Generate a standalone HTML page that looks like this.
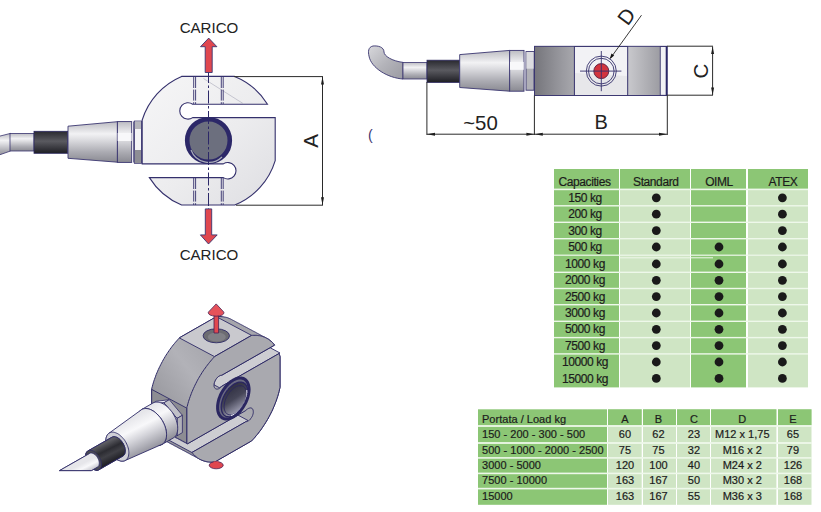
<!DOCTYPE html>
<html><head><meta charset="utf-8">
<style>
html,body{margin:0;padding:0;background:#fff;}
body{width:821px;height:512px;overflow:hidden;position:relative;}
svg{position:absolute;left:0;top:0;}
text{font-family:"Liberation Sans",sans-serif;}
.t1{font-size:12px;fill:#1c1c1c;letter-spacing:-0.4px;stroke:#1c1c1c;stroke-width:0.2px;}
.t2{font-size:11px;fill:#1c1c1c;letter-spacing:0.02px;stroke:#1c1c1c;stroke-width:0.2px;}
</style></head>
<body>
<svg width="821" height="512" viewBox="0 0 821 512">
<defs>
<linearGradient id="gCab" x1="0" y1="0" x2="0" y2="1">
<stop offset="0" stop-color="#bcbcc2"/><stop offset="0.3" stop-color="#f2f2f4"/><stop offset="0.45" stop-color="#dcdce0"/><stop offset="0.75" stop-color="#ababb2"/><stop offset="1" stop-color="#8a8a92"/>
</linearGradient>
<linearGradient id="gBlk" x1="0" y1="0" x2="0" y2="1">
<stop offset="0" stop-color="#2a2a30"/><stop offset="0.45" stop-color="#5a5a60"/><stop offset="1" stop-color="#1e1e24"/>
</linearGradient>
</defs>

<!-- ================= TABLE 1 ================= -->
<g id="tab1">
<rect x="554" y="169" width="65" height="218.4" fill="#8cc675"/>
<rect x="620" y="169" width="70" height="218.4" fill="#cfe5c4"/>
<rect x="691" y="169" width="55" height="218.4" fill="#8cc675"/>
<rect x="748" y="169" width="60" height="218.4" fill="#cfe5c4"/>
<rect x="620" y="169" width="70" height="20" fill="#8cc675"/>
<rect x="748" y="169" width="60" height="20" fill="#8cc675"/>
<g fill="#eef8ea">
<rect x="554" y="188.6" width="254" height="1.6"/>
<rect x="554" y="205.1" width="254" height="1.4"/>
<rect x="554" y="221.6" width="254" height="1.4"/>
<rect x="554" y="238.0" width="254" height="1.4"/>
<rect x="554" y="254.6" width="254" height="1.2"/>
<rect x="620" y="257.3" width="93" height="1.0"/>
<rect x="554" y="271.6" width="254" height="1.4"/>
<rect x="554" y="287.8" width="254" height="1.4"/>
<rect x="554" y="304.0" width="254" height="1.4"/>
<rect x="554" y="320.6" width="254" height="1.4"/>
<rect x="554" y="336.9" width="254" height="1.4"/>
<rect x="554" y="353.2" width="254" height="1.4"/>
</g>
<g class="t1" text-anchor="middle">
<text x="584.5" y="186.4">Capacities</text>
<text x="655.8" y="186.4">Standard</text>
<text x="719" y="186.4">OIML</text>
<text x="783" y="186.4">ATEX</text>
<text x="585" y="202">150 kg</text>
<text x="585" y="218.4">200 kg</text>
<text x="585" y="234.8">300 kg</text>
<text x="585" y="251.2">500 kg</text>
<text x="585" y="268">1000 kg</text>
<text x="585" y="284.3">2000 kg</text>
<text x="585" y="300.6">2500 kg</text>
<text x="585" y="317">3000 kg</text>
<text x="585" y="333.3">5000 kg</text>
<text x="585" y="349.6">7500 kg</text>
<text x="585" y="366">10000 kg</text>
<text x="585" y="382.6">15000 kg</text>
</g>
<g fill="#1a1a1a">
<circle cx="656.3" cy="197.8" r="4.4"/><circle cx="782.4" cy="197.8" r="4.4"/>
<circle cx="656.3" cy="214.2" r="4.4"/><circle cx="782.4" cy="214.2" r="4.4"/>
<circle cx="656.3" cy="230.6" r="4.4"/><circle cx="782.4" cy="230.6" r="4.4"/>
<circle cx="656.3" cy="247" r="4.4"/><circle cx="719" cy="247" r="4.4"/><circle cx="782.4" cy="247" r="4.4"/>
<circle cx="656.3" cy="264" r="4.4"/><circle cx="719" cy="264" r="4.4"/><circle cx="782.4" cy="264" r="4.4"/>
<circle cx="656.3" cy="280.3" r="4.4"/><circle cx="719" cy="280.3" r="4.4"/><circle cx="782.4" cy="280.3" r="4.4"/>
<circle cx="656.3" cy="296.6" r="4.4"/><circle cx="719" cy="296.6" r="4.4"/><circle cx="782.4" cy="296.6" r="4.4"/>
<circle cx="656.3" cy="313" r="4.4"/><circle cx="719" cy="313" r="4.4"/><circle cx="782.4" cy="313" r="4.4"/>
<circle cx="656.3" cy="329.3" r="4.4"/><circle cx="719" cy="329.3" r="4.4"/><circle cx="782.4" cy="329.3" r="4.4"/>
<circle cx="656.3" cy="345.6" r="4.4"/><circle cx="719" cy="345.6" r="4.4"/><circle cx="782.4" cy="345.6" r="4.4"/>
<circle cx="656.3" cy="362" r="4.4"/><circle cx="719" cy="362" r="4.4"/><circle cx="782.4" cy="362" r="4.4"/>
<circle cx="656.3" cy="378.4" r="4.4"/><circle cx="719" cy="378.4" r="4.4"/><circle cx="782.4" cy="378.4" r="4.4"/>
</g>
</g>

<!-- ================= TABLE 2 ================= -->
<g id="tab2">
<rect x="478" y="409.3" width="129" height="95.5" fill="#8cc675"/>
<rect x="608" y="409.3" width="33.7" height="95.5" fill="#cfe5c4"/>
<rect x="643" y="409.3" width="33" height="95.5" fill="#cfe5c4"/>
<rect x="677" y="409.3" width="33" height="95.5" fill="#cfe5c4"/>
<rect x="711" y="409.3" width="65.4" height="95.5" fill="#cfe5c4"/>
<rect x="778" y="409.3" width="33.5" height="95.5" fill="#cfe5c4"/>
<g fill="#8cc675">
<rect x="608" y="409.3" width="33.7" height="16"/>
<rect x="643" y="409.3" width="33" height="16"/>
<rect x="677" y="409.3" width="33" height="16"/>
<rect x="711" y="409.3" width="65.4" height="16"/>
<rect x="778" y="409.3" width="33.5" height="16"/>
</g>
<g fill="#eef8ea">
<rect x="478" y="425.1" width="334" height="1.8"/>
<rect x="478" y="442.1" width="334" height="1.8"/>
<rect x="478" y="457.1" width="334" height="1.6"/>
<rect x="478" y="472.6" width="334" height="1.6"/>
<rect x="478" y="487.8" width="334" height="1.6"/>
</g>
<g class="t2">
<text x="482" y="423">Portata / Load kg</text>
<text x="482" y="438">150 - 200 - 300 - 500</text>
<text x="482" y="453.7">500 - 1000 - 2000 - 2500</text>
<text x="482" y="469">3000 - 5000</text>
<text x="482" y="484.3">7500 - 10000</text>
<text x="482" y="500">15000</text>
</g>
<g class="t2" text-anchor="middle">
<text x="625" y="423">A</text><text x="658.5" y="423">B</text><text x="694" y="423">C</text><text x="742.3" y="423">D</text><text x="793" y="423">E</text>
<text x="625" y="438">60</text><text x="658.5" y="438">62</text><text x="694" y="438">23</text><text x="742.3" y="438">M12 x 1,75</text><text x="793" y="438">65</text>
<text x="625" y="453.7">75</text><text x="658.5" y="453.7">75</text><text x="694" y="453.7">32</text><text x="742.3" y="453.7">M16 x 2</text><text x="793" y="453.7">79</text>
<text x="625" y="469">120</text><text x="658.5" y="469">100</text><text x="694" y="469">40</text><text x="742.3" y="469">M24 x 2</text><text x="793" y="469">126</text>
<text x="625" y="484.3">163</text><text x="658.5" y="484.3">167</text><text x="694" y="484.3">50</text><text x="742.3" y="484.3">M30 x 2</text><text x="793" y="484.3">168</text>
<text x="625" y="500">163</text><text x="658.5" y="500">167</text><text x="694" y="500">55</text><text x="742.3" y="500">M36 x 3</text><text x="793" y="500">168</text>
</g>
</g>

<!-- ================= FRONT VIEW ================= -->
<g id="front">
<!-- cable -->
<path d="M-6,137.6 L10.5,133.4 L10.5,151 L-6,156.8 Z" fill="url(#gCab)" stroke="#3a3570" stroke-width="0.8"/>
<rect x="10" y="133.4" width="24" height="17.6" fill="url(#gCab)" stroke="#3a3570" stroke-width="0.8"/>
<rect x="34" y="131.3" width="33.7" height="22" fill="url(#gBlk)" stroke="#2c2860" stroke-width="0.8"/>
<path d="M68,126.2 L117.4,121.7 L117.4,162.2 L68,158.3 Z" fill="url(#gCab)" stroke="#3a3570" stroke-width="0.9"/>
<rect x="117.4" y="121.6" width="14.3" height="40.8" fill="url(#gCab)" stroke="#3a3570" stroke-width="0.9"/>
<rect x="117.6" y="133" width="14" height="8" fill="#f8f8fa"/>
<rect x="133.3" y="121.5" width="1" height="41" fill="#3a3570"/>
<rect x="134.4" y="121.1" width="7.1" height="42.2" fill="#f4f4f6" stroke="#3a3570" stroke-width="0.9"/>
<rect x="134.8" y="121.5" width="6.3" height="7.5" fill="#b5b5bb"/>
<rect x="134.8" y="150" width="6.3" height="13" fill="#8e8e95"/>
<!-- body -->
<linearGradient id="gBody" x1="0" y1="0" x2="1" y2="1">
<stop offset="0" stop-color="#f6f6f7"/><stop offset="0.55" stop-color="#ececee"/><stop offset="1" stop-color="#dedee2"/>
</linearGradient>
<path d="M181.6,76.4 L234.6,76.4 A69.5,69.5 0 0 1 267.5,104.2 L192.7,104.2 A8.2,8.2 0 1 0 192.7,117.6 L275.2,117.6 L275.2,160.6 A69.5,69.5 0 0 1 234.7,205 L181.6,205 A69.5,69.5 0 0 1 149.4,177.6 L223.3,177.6 A8.2,8.2 0 1 0 223.3,163.9 L142.2,163.9 L142.2,120 A69.5,69.5 0 0 1 181.6,76.4 Z" fill="url(#gBody)" stroke="#34306c" stroke-width="1.1"/>
<line x1="203.5" y1="78.5" x2="243" y2="103.5" stroke="#a8a8b8" stroke-width="0.6"/>
<!-- dashed hole lines -->
<g stroke="#34306c" stroke-width="0.9" stroke-dasharray="11,1.6">
<line x1="193.7" y1="77" x2="193.7" y2="104"/><line x1="195.6" y1="77" x2="195.6" y2="104"/>
<line x1="221.3" y1="77" x2="221.3" y2="104"/><line x1="223.2" y1="77" x2="223.2" y2="104"/>
<line x1="193.7" y1="178" x2="193.7" y2="205"/><line x1="195.6" y1="178" x2="195.6" y2="205"/>
<line x1="221.3" y1="178" x2="221.3" y2="205"/><line x1="223.2" y1="178" x2="223.2" y2="205"/>
</g>
<!-- center hole -->
<circle cx="208.5" cy="140.5" r="21.3" fill="#6c6f7e" stroke="#2c2868" stroke-width="4.6"/>
<path d="M191,150 A19,19 0 0 0 222,157" fill="none" stroke="#a9acb8" stroke-width="1.2"/>
<!-- center line -->
<line x1="208.5" y1="70" x2="208.5" y2="210" stroke="#2c2868" stroke-width="1" stroke-dasharray="13,2.5,2.5,2.5"/>
<!-- arrows -->
<path d="M205.2,72.5 L205.2,46.7 L200.5,46.7 L208.7,38.1 L216.9,46.7 L212.2,46.7 L212.2,72.5 Z" fill="#e0474f" stroke="#3a3570" stroke-width="0.9"/>
<path d="M205.3,208.9 L205.3,234.9 L200.4,234.9 L208.5,244 L217.2,234.9 L211.7,234.9 L211.7,208.9 Z" fill="#e0474f" stroke="#3a3570" stroke-width="0.9"/>
<!-- dimension A -->
<g stroke="#2a2a2a" stroke-width="1" fill="none">
<line x1="234" y1="76.6" x2="323" y2="76.6"/>
<line x1="236" y1="205.2" x2="323" y2="205.2"/>
<line x1="322.5" y1="77" x2="322.5" y2="205"/>
</g>
<path d="M322.5,76.8 L324,84.6 L321,84.6 Z M322.5,205 L324,197.2 L321,197.2 Z" fill="#1e1e1e"/>
<text x="0" y="0" transform="translate(318.4,140.8) rotate(-90)" text-anchor="middle" font-size="20.6" fill="#222">A</text>
<text x="209" y="32.7" text-anchor="middle" font-size="15.1" fill="#222">CARICO</text>
<text x="209" y="260.2" text-anchor="middle" font-size="15.1" fill="#222">CARICO</text>
</g>

<!-- ================= SIDE VIEW ================= -->
<g id="side">
<linearGradient id="gBend" x1="0" y1="0" x2="1" y2="1">
<stop offset="0" stop-color="#d8d8dc"/><stop offset="0.5" stop-color="#b4b4ba"/><stop offset="1" stop-color="#9a9aa2"/>
</linearGradient>
<path d="M403,62.4 C392,61 384,56 384,52 C384,47 378,45.5 373,46 C368,47 368,52 369,56 C371,68 388,78 403,79 Z" fill="url(#gBend)" stroke="#3a3570" stroke-width="0.9"/>
<rect x="403" y="62.4" width="24" height="16.6" fill="url(#gCab)" stroke="#3a3570" stroke-width="0.8"/>
<rect x="427" y="60.2" width="32.7" height="22.2" fill="url(#gBlk)" stroke="#2c2860" stroke-width="0.8"/>
<path d="M459.7,54.6 L509.7,50.4 L509.7,91.2 L459.7,87.5 Z" fill="url(#gCab)" stroke="#3a3570" stroke-width="0.9"/>
<rect x="509.7" y="50.4" width="14.3" height="40.8" fill="url(#gCab)" stroke="#3a3570" stroke-width="0.9"/>
<rect x="510" y="62" width="13.7" height="7.8" fill="#f8f8fa"/>
<rect x="526" y="51.6" width="8" height="38.6" fill="#b0b0b6" stroke="#3a3570" stroke-width="0.9"/>
<rect x="526.4" y="52" width="7.2" height="16.7" fill="#dcdce0"/>
<!-- body -->
<linearGradient id="gDarkL" x1="0" y1="0" x2="1" y2="0">
<stop offset="0" stop-color="#76767c"/><stop offset="0.7" stop-color="#9a9aa0"/><stop offset="1" stop-color="#a8a8ad"/>
</linearGradient>
<linearGradient id="gDarkR" x1="0" y1="0" x2="1" y2="0">
<stop offset="0" stop-color="#c9c9cd"/><stop offset="1" stop-color="#9c9ca2"/>
</linearGradient>
<rect x="534.6" y="46.4" width="132.4" height="49" fill="#f2f2f5" stroke="#34306c" stroke-width="1.1"/>
<rect x="535" y="46.8" width="39.4" height="48.2" fill="url(#gDarkL)"/>
<rect x="627.7" y="46.8" width="32.6" height="48.2" fill="url(#gDarkR)"/>
<path d="M575,73 L627,76 L627,95 L575,95 Z" fill="#e7e7ea"/>
<line x1="574.4" y1="46.4" x2="574.4" y2="95.4" stroke="#34306c" stroke-width="1"/>
<line x1="627.7" y1="46.4" x2="627.7" y2="95.4" stroke="#34306c" stroke-width="1"/>
<line x1="660.3" y1="46.4" x2="660.3" y2="95.4" stroke="#34306c" stroke-width="0.8"/>
<line x1="666.6" y1="46.4" x2="666.6" y2="95.4" stroke="#2c2868" stroke-width="1.8"/>
<!-- target -->
<circle cx="601.3" cy="71.1" r="15" fill="none" stroke="#34306c" stroke-width="0.9"/>
<circle cx="601.3" cy="71.1" r="12.8" fill="none" stroke="#34306c" stroke-width="0.9"/>
<circle cx="601.3" cy="71.1" r="7.5" fill="#d2343e" stroke="#5a2040" stroke-width="0.9"/>
<line x1="580" y1="71.1" x2="621.4" y2="71.1" stroke="#34306c" stroke-width="0.9"/>
<line x1="601.3" y1="51" x2="601.3" y2="91.2" stroke="#34306c" stroke-width="0.9"/>
<!-- leader D -->
<line x1="610.4" y1="58.3" x2="641.5" y2="15.2" stroke="#222" stroke-width="0.9"/>
<path d="M609.6,59.3 L611.5,53.6 L614.2,55.6 Z" fill="#111"/>
<text x="0" y="0" transform="translate(632.1,20.4) rotate(-54)" text-anchor="middle" font-size="20.5" fill="#222">D</text>
<!-- dimension lines -->
<g stroke="#2a2a2a" stroke-width="1" fill="none">
<line x1="667" y1="46.2" x2="713" y2="46.2"/>
<line x1="667" y1="95.2" x2="713" y2="95.2"/>
<line x1="712.6" y1="46.5" x2="712.6" y2="95"/>
<line x1="426.9" y1="82" x2="426.9" y2="135"/>
<line x1="534.4" y1="95.4" x2="534.4" y2="135"/>
<line x1="667.3" y1="95.4" x2="667.3" y2="135"/>
<line x1="427" y1="134.2" x2="667" y2="134.2"/>
</g>
<path d="M712.6,46.4 L714.1,54 L711.1,54 Z M712.6,95 L714.1,87.4 L711.1,87.4 Z" fill="#1e1e1e"/>
<path d="M427,134.2 L435,132.7 L435,135.7 Z M534.4,134.2 L526.4,132.7 L526.4,135.7 Z M534.8,134.2 L542.8,132.7 L542.8,135.7 Z M667,134.2 L659,132.7 L659,135.7 Z" fill="#1e1e1e"/>
<text x="0" y="0" transform="translate(708.3,71) rotate(-90)" text-anchor="middle" font-size="20.5" fill="#222">C</text>
<text x="480.5" y="130.1" text-anchor="middle" font-size="20.4" fill="#222">~50</text>
<text x="601.2" y="129.4" text-anchor="middle" font-size="20" fill="#222">B</text>
<text x="368" y="140" font-size="14" fill="#3a3570">(</text>
</g>

<g id="iso">
<linearGradient id="gSide" gradientUnits="userSpaceOnUse" x1="150" y1="400" x2="215" y2="350"><stop offset="0" stop-color="#96969c"/><stop offset="0.6" stop-color="#b2b2b8"/><stop offset="1" stop-color="#a6a6ac"/></linearGradient>
<path d="M151.7,424.0 L151.7,424.0 L151.9,424.6 L151.9,424.6 L152.1,425.2 L152.1,425.2 L152.1,425.2 L152.6,424.9 L152.6,424.9 L152.6,424.9 L152.6,424.9 L152.6,424.9 L152.6,424.9 L152.6,424.9 L152.6,424.9 L152.6,424.9 L152.6,424.9 L152.6,424.9 L152.6,424.9 L152.6,424.9 L152.6,424.9 L152.6,424.9 L152.6,424.9 L152.6,424.9 L152.6,424.9 L152.6,424.9 L152.7,425.0 L152.7,425.0 L152.9,425.5 L152.9,425.5 L152.9,425.5 L153.3,425.3 L153.3,425.3 L153.3,425.3 L153.3,425.3 L153.3,425.3 L153.3,425.3 L153.3,425.3 L153.3,425.3 L153.3,425.3 L153.3,425.3 L153.3,425.3 L153.3,425.3 L153.3,425.3 L153.3,425.3 L153.3,425.3 L153.3,425.3 L153.3,425.3 L153.3,425.3 L153.3,425.3 L153.4,425.4 L153.4,425.4 L153.6,425.9 L153.6,425.9 L153.6,425.9 L154.0,425.7 L154.0,425.7 L154.0,425.7 L154.0,425.6 L154.0,425.6 L154.0,425.6 L154.0,425.6 L154.0,425.6 L154.0,425.7 L154.0,425.7 L154.0,425.7 L154.0,425.7 L154.1,425.7 L154.1,425.7 L154.1,425.7 L154.1,425.7 L154.1,425.7 L154.1,425.7 L154.1,425.7 L154.1,425.8 L154.1,425.8 L154.3,426.3 L154.3,426.3 L154.3,426.3 L154.8,426.0 L154.8,426.0 L154.8,426.0 L154.8,426.0 L154.8,426.0 L154.8,426.0 L154.8,426.0 L154.8,426.0 L154.8,426.0 L154.8,426.0 L154.8,426.0 L154.8,426.0 L154.8,426.0 L154.8,426.0 L154.8,426.0 L154.8,426.0 L154.8,426.0 L154.8,426.0 L154.8,426.0 L154.8,426.2 L154.8,426.2 L155.0,426.7 L155.0,426.7 L155.0,426.7 L155.5,426.4 L155.5,426.4 L155.5,426.4 L155.5,426.4 L155.5,426.4 L155.5,426.4 L155.5,426.4 L155.5,426.4 L155.5,426.4 L155.5,426.4 L155.5,426.4 L155.5,426.4 L155.5,426.4 L155.5,426.4 L155.5,426.4 L155.5,426.4 L155.5,426.4 L155.5,426.4 L155.5,426.4 L155.5,426.5 L155.5,426.5 L155.7,427.1 L155.7,427.1 L155.7,427.1 L156.2,426.8 L156.2,426.8 L156.2,426.8 L156.2,426.8 L156.2,426.8 L156.2,426.8 L156.2,426.8 L156.2,426.8 L156.2,426.8 L156.2,426.8 L156.2,426.8 L156.2,426.8 L156.2,426.8 L156.2,426.8 L156.2,426.8 L156.2,426.8 L156.2,426.8 L156.2,426.8 L156.2,426.8 L156.2,426.9 L156.2,426.9 L156.4,427.5 L156.4,427.5 L156.4,427.5 L156.9,427.2 L156.9,427.2 L156.9,427.2 L156.9,427.2 L156.9,427.2 L156.9,427.2 L156.9,427.2 L156.9,427.2 L156.9,427.2 L156.9,427.2 L156.9,427.2 L156.9,427.2 L156.9,427.2 L156.9,427.2 L156.9,427.2 L156.9,427.2 L156.9,427.2 L156.9,427.2 L156.9,427.2 L157.0,427.3 L157.0,427.3 L157.2,427.8 L157.2,427.8 L157.2,427.8 L157.6,427.6 L157.6,427.6 L157.6,427.6 L157.6,427.6 L157.6,427.6 L157.6,427.6 L157.6,427.6 L157.6,427.6 L157.6,427.6 L157.6,427.6 L157.6,427.6 L157.6,427.6 L157.6,427.6 L157.6,427.6 L157.6,427.6 L157.6,427.6 L157.6,427.6 L157.6,427.6 L157.6,427.6 L157.7,427.7 L157.7,427.7 L157.9,428.2 L157.9,428.2 L157.9,428.2 L158.3,427.9 L158.3,427.9 L158.3,427.9 L158.4,427.9 L158.4,427.9 L158.4,427.9 L158.4,427.9 L158.4,427.9 L158.4,427.9 L158.4,427.9 L158.4,427.9 L158.4,427.9 L158.4,427.9 L158.4,428.0 L158.4,428.0 L158.4,428.0 L158.4,428.0 L158.4,428.0 L158.4,428.0 L158.4,428.1 L158.4,428.1 L158.6,428.6 L158.6,428.6 L158.6,428.6 L159.1,428.3 L159.1,428.3 L159.1,428.3 L159.1,428.3 L159.1,428.3 L159.1,428.3 L159.1,428.3 L159.1,428.3 L159.1,428.3 L159.1,428.3 L159.1,428.3 L159.1,428.3 L159.1,428.3 L159.1,428.3 L159.1,428.3 L159.1,428.3 L159.1,428.3 L159.1,428.3 L159.1,428.3 L159.1,428.5 L159.1,428.5 L159.3,429.0 L159.3,429.0 L159.3,429.0 L159.8,428.7 L159.8,428.7 L159.8,428.7 L159.8,428.7 L159.8,428.7 L159.8,428.7 L159.8,428.7 L159.8,428.7 L159.8,428.7 L159.8,428.7 L159.8,428.7 L159.8,428.7 L159.8,428.7 L159.8,428.7 L159.8,428.7 L159.8,428.7 L159.8,428.7 L159.8,428.7 L159.8,428.7 L159.8,428.8 L159.8,428.8 L160.0,429.4 L160.0,429.4 L160.0,429.4 L160.5,429.1 L160.5,429.1 L160.5,429.1 L160.5,429.1 L160.5,429.1 L160.5,429.1 L160.5,429.1 L160.5,429.1 L160.5,429.1 L160.5,429.1 L160.5,429.1 L160.5,429.1 L160.5,429.1 L160.5,429.1 L160.5,429.1 L160.5,429.1 L160.5,429.1 L160.5,429.1 L160.5,429.1 L160.6,429.2 L160.6,429.2 L160.7,429.7 L160.7,429.7 L160.7,429.7 L161.2,429.5 L161.2,429.5 L161.2,429.5 L161.2,429.5 L161.2,429.5 L161.2,429.5 L161.2,429.5 L161.2,429.5 L161.2,429.5 L161.2,429.5 L161.2,429.5 L161.2,429.5 L161.2,429.5 L161.2,429.5 L161.2,429.5 L161.2,429.5 L161.2,429.5 L161.2,429.5 L161.2,429.5 L161.3,429.6 L161.3,429.6 L161.5,430.1 L161.5,430.1 L161.5,430.1 L161.9,429.9 L161.9,429.9 L161.9,429.9 L161.9,429.9 L161.9,429.9 L161.9,429.9 L161.9,429.9 L161.9,429.9 L161.9,429.9 L161.9,429.9 L161.9,429.9 L161.9,429.9 L161.9,429.9 L161.9,429.9 L162.0,429.9 L162.0,429.9 L162.0,429.9 L162.0,429.9 L162.0,429.9 L162.0,430.0 L162.0,430.0 L162.2,430.5 L162.2,430.5 L162.2,430.5 L162.7,430.2 L162.7,430.2 L162.7,430.2 L162.7,430.2 L162.7,430.2 L162.7,430.2 L162.7,430.2 L162.7,430.2 L162.7,430.2 L162.7,430.2 L162.7,430.2 L162.7,430.2 L162.7,430.2 L162.7,430.2 L162.7,430.2 L162.7,430.2 L162.7,430.3 L162.7,430.3 L162.7,430.3 L162.7,430.3 L162.7,430.3 L162.7,430.3 L162.7,430.3 L162.7,430.3 L162.7,430.3 L162.7,430.3 L162.7,430.3 L162.7,430.3 L162.7,430.3 L162.7,430.4 L162.7,430.4 L162.7,430.4 L162.7,430.4 L162.7,430.4 L156.8,433.7 L156.8,433.7 L156.8,433.7 L156.9,433.9 L156.9,433.9 L157.6,434.8 L157.6,434.8 L158.3,435.6 L158.3,435.6 L159.1,436.4 L159.1,436.4 L159.9,437.1 L159.9,437.1 L160.7,437.8 L160.7,437.8 L161.5,438.5 L161.5,438.5 L162.4,439.1 L162.4,439.1 L163.2,439.7 L163.2,439.7 L164.2,440.2 L164.2,440.2 L164.9,440.6 L164.9,440.6 L164.9,440.6 L164.9,440.6 L165.6,441.0 L165.6,441.0 L165.6,441.0 L165.6,441.0 L166.3,441.4 L166.3,441.4 L166.3,441.4 L166.3,441.4 L167.0,441.7 L167.0,441.7 L167.0,441.7 L167.0,441.7 L167.7,442.1 L167.7,442.1 L167.7,442.1 L167.7,442.1 L168.5,442.5 L168.5,442.5 L168.5,442.5 L168.5,442.5 L169.2,442.9 L169.2,442.9 L169.2,442.9 L169.2,442.9 L169.9,443.3 L169.9,443.3 L169.9,443.3 L169.9,443.3 L170.6,443.7 L170.6,443.7 L170.6,443.7 L170.6,443.7 L171.3,444.0 L171.3,444.0 L171.3,444.0 L171.3,444.0 L172.0,444.4 L172.0,444.4 L172.1,444.4 L172.1,444.4 L172.8,444.8 L172.8,444.8 L172.8,444.8 L172.8,444.8 L173.5,445.2 L173.5,445.2 L173.5,445.2 L173.5,445.2 L174.2,445.6 L174.2,445.6 L174.2,445.6 L174.2,445.6 L174.9,446.0 L174.9,446.0 L174.9,446.0 L174.9,446.0 L175.6,446.3 L175.6,446.3 L175.6,446.3 L175.6,446.3 L176.4,446.7 L176.4,446.7 L176.4,446.7 L176.4,446.7 L177.1,447.1 L177.1,447.1 L177.1,447.1 L177.1,447.1 L177.8,447.5 L177.8,447.5 L177.8,447.5 L177.8,447.5 L178.5,447.9 L178.5,447.9 L178.5,447.9 L178.5,447.9 L179.2,448.3 L179.2,448.3 L179.2,448.3 L179.2,448.3 L179.9,448.6 L179.9,448.6 L180.0,448.6 L180.0,448.6 L180.7,449.0 L180.7,449.0 L180.7,449.0 L180.7,449.0 L181.4,449.4 L181.4,449.4 L181.4,449.4 L181.4,449.4 L182.1,449.8 L182.1,449.8 L182.1,449.8 L182.1,449.8 L182.8,450.2 L182.8,450.2 L182.8,450.2 L182.8,450.2 L183.5,450.5 L183.5,450.5 L183.5,450.6 L183.5,450.6 L184.3,450.9 L184.3,450.9 L184.3,450.9 L184.3,450.9 L185.0,451.3 L185.0,451.3 L185.0,451.3 L185.0,451.3 L185.7,451.7 L185.7,451.7 L185.7,451.7 L185.7,451.7 L186.4,452.1 L186.4,452.1 L186.4,452.1 L186.4,452.1 L187.1,452.5 L187.1,452.5 L187.1,452.5 L187.1,452.5 L187.8,452.8 L187.8,452.8 L187.9,452.9 L187.9,452.9 L188.6,453.2 L188.6,453.2 L188.6,453.2 L188.6,453.2 L189.3,453.6 L189.3,453.6 L189.3,453.6 L189.3,453.6 L190.0,454.0 L190.0,454.0 L190.0,454.0 L190.0,454.0 L190.7,454.4 L190.7,454.4 L190.7,454.4 L190.7,454.4 L191.4,454.8 L191.4,454.8 L191.4,454.8 L191.4,454.8 L192.1,455.1 L192.2,455.1 L192.2,455.2 L192.2,455.2 L192.9,455.5 L192.9,455.5 L192.9,455.5 L192.9,455.5 L193.6,455.9 L193.6,455.9 L193.6,455.9 L193.6,455.9 L194.3,456.3 L194.3,456.3 L194.3,456.3 L194.3,456.3 L195.0,456.7 L195.0,456.7 L195.0,456.7 L195.0,456.7 L195.7,457.1 L195.7,457.1 L195.7,457.1 L195.7,457.1 L196.5,457.4 L196.5,457.4 L196.5,457.4 L196.5,457.4 L197.2,457.8 L197.2,457.8 L197.2,457.8 L197.2,457.8 L197.9,458.2 L197.9,458.2 L197.9,458.2 L197.9,458.2 L198.6,458.6 L198.6,458.6 L198.6,458.6 L198.6,458.6 L199.3,459.0 L199.3,459.0 L199.3,459.0 L199.3,459.0 L200.3,459.5 L200.3,459.5 L201.2,459.9 L201.2,459.9 L202.2,460.3 L202.2,460.3 L203.2,460.7 L203.2,460.7 L204.2,461.0 L204.2,461.0 L205.3,461.3 L205.3,461.3 L206.3,461.6 L206.3,461.6 L207.4,461.8 L207.4,461.8 L208.5,461.9 L208.5,461.9 L209.6,462.0 L209.6,462.0 L210.7,462.1 L210.7,462.1 L211.9,462.1 L211.9,462.1 L213.0,462.1 L213.0,462.1 L214.2,462.0 L214.2,462.0 L214.7,462.0 L214.7,462.0 L214.7,462.0 L251.6,440.9 L251.6,440.9 L251.6,440.9 L252.7,439.7 L252.7,439.7 L253.9,438.4 L253.9,438.4 L255.1,437.1 L255.1,437.1 L256.2,435.7 L256.2,435.7 L257.3,434.4 L257.3,434.4 L258.4,433.0 L258.4,433.0 L259.5,431.6 L259.5,431.6 L260.6,430.1 L260.6,430.1 L261.6,428.7 L261.6,428.7 L262.6,427.2 L262.6,427.2 L263.6,425.7 L263.6,425.7 L264.6,424.2 L264.6,424.2 L265.6,422.6 L265.6,422.6 L266.5,421.1 L266.5,421.1 L267.5,419.5 L267.5,419.5 L268.4,417.9 L268.4,417.9 L269.2,416.4 L269.2,416.4 L270.1,414.7 L270.1,414.7 L270.9,413.1 L270.9,413.1 L271.7,411.5 L271.7,411.5 L272.5,409.9 L272.5,409.9 L273.2,408.2 L273.2,408.2 L273.9,406.6 L273.9,406.6 L274.6,404.9 L274.6,404.9 L275.2,403.3 L275.2,403.3 L275.9,401.6 L275.9,401.6 L276.5,399.9 L276.5,399.9 L277.0,398.3 L277.0,398.3 L277.6,396.6 L277.6,396.6 L278.1,394.9 L278.1,394.9 L278.6,393.3 L278.6,393.3 L279.0,391.6 L279.0,391.6 L279.4,389.9 L279.4,389.9 L279.8,388.3 L279.8,388.3 L280.0,387.4 L280.0,387.4 L280.0,387.4 L280.0,356.5 L280.0,356.5 L280.0,356.5 L279.8,355.8 L279.8,355.8 L279.4,354.6 L279.4,354.6 L279.1,353.5 L279.1,353.5 L279.1,353.5 L278.6,353.8 L278.6,353.8 L278.6,353.8 L278.6,353.8 L278.6,353.8 L278.6,353.8 L278.6,353.8 L278.6,353.8 L278.6,353.8 L278.6,353.8 L278.6,353.8 L278.6,353.8 L278.6,353.8 L278.6,353.8 L278.6,353.8 L278.6,353.8 L278.6,353.8 L278.6,353.8 L278.6,353.8 L278.3,353.2 L278.3,353.2 L278.3,353.2 L277.9,353.4 L277.9,353.4 L277.9,353.4 L277.9,353.4 L277.9,353.4 L277.9,353.4 L277.9,353.4 L277.9,353.4 L277.9,353.4 L277.8,353.4 L277.8,353.4 L277.8,353.4 L277.8,353.4 L277.8,353.4 L277.8,353.4 L277.8,353.4 L277.8,353.4 L277.8,353.4 L277.8,353.4 L277.6,352.8 L277.6,352.8 L277.6,352.8 L277.1,353.0 L277.1,353.0 L277.1,353.0 L277.1,353.0 L277.1,353.0 L277.1,353.0 L277.1,353.0 L277.1,353.0 L277.1,353.0 L277.1,353.0 L277.1,353.0 L277.1,353.0 L277.1,353.0 L277.1,353.0 L277.1,353.0 L277.1,353.0 L277.1,353.0 L277.1,353.0 L277.1,353.0 L276.9,352.4 L276.9,352.4 L276.9,352.4 L276.4,352.7 L276.4,352.7 L276.4,352.7 L276.4,352.7 L276.4,352.7 L276.4,352.7 L276.4,352.7 L276.4,352.7 L276.4,352.7 L276.4,352.7 L276.4,352.7 L276.4,352.7 L276.4,352.7 L276.4,352.7 L276.4,352.7 L276.4,352.7 L276.4,352.7 L276.4,352.7 L276.4,352.7 L276.2,352.0 L276.2,352.0 L276.2,352.0 L275.7,352.3 L275.7,352.3 L275.7,352.3 L275.7,352.3 L275.7,352.3 L275.7,352.3 L275.7,352.3 L275.7,352.3 L275.7,352.3 L275.7,352.3 L275.7,352.3 L275.7,352.3 L275.7,352.3 L275.7,352.3 L275.7,352.3 L275.7,352.3 L275.7,352.3 L275.7,352.3 L275.7,352.3 L275.5,351.6 L275.5,351.6 L275.5,351.6 L275.0,351.9 L275.0,351.9 L275.0,351.9 L275.0,351.9 L275.0,351.9 L275.0,351.9 L275.0,351.9 L275.0,351.9 L275.0,351.9 L275.0,351.9 L275.0,351.9 L275.0,351.9 L275.0,351.9 L275.0,351.9 L275.0,351.9 L275.0,351.9 L275.0,351.9 L275.0,351.9 L275.0,351.9 L274.7,351.2 L274.7,351.2 L274.7,351.2 L274.3,351.5 L274.3,351.5 L274.3,351.5 L274.3,351.5 L274.3,351.5 L274.3,351.5 L274.3,351.5 L274.3,351.5 L274.3,351.5 L274.3,351.5 L274.3,351.5 L274.3,351.5 L274.3,351.5 L274.3,351.5 L274.3,351.5 L274.3,351.5 L274.3,351.5 L274.3,351.5 L274.3,351.5 L274.0,350.9 L274.0,350.9 L274.0,350.9 L273.5,351.1 L273.5,351.1 L273.5,351.1 L273.5,351.1 L273.5,351.1 L273.5,351.1 L273.5,351.1 L273.5,351.1 L273.5,351.1 L273.5,351.1 L273.5,351.1 L273.5,351.1 L273.5,351.1 L273.5,351.1 L273.5,351.1 L273.5,351.1 L273.5,351.1 L273.5,351.1 L273.5,351.1 L273.3,350.5 L273.3,350.5 L273.3,350.5 L272.8,350.7 L272.8,350.7 L272.8,350.7 L272.8,350.7 L272.8,350.7 L272.8,350.7 L272.8,350.7 L272.8,350.7 L272.8,350.7 L272.8,350.7 L272.8,350.7 L272.8,350.7 L272.8,350.7 L272.8,350.7 L272.8,350.7 L272.8,350.7 L272.8,350.7 L272.8,350.7 L272.8,350.7 L272.6,350.1 L272.6,350.1 L272.6,350.1 L272.1,350.4 L272.1,350.4 L272.1,350.4 L272.1,350.4 L272.1,350.4 L272.1,350.4 L272.1,350.4 L272.1,350.4 L272.1,350.4 L272.1,350.4 L272.1,350.4 L272.1,350.4 L272.1,350.4 L272.1,350.4 L272.1,350.4 L272.1,350.4 L272.1,350.4 L272.1,350.4 L272.1,350.4 L271.9,349.7 L271.9,349.7 L271.9,349.7 L271.4,350.0 L271.4,350.0 L271.4,350.0 L271.4,350.0 L271.4,350.0 L271.4,350.0 L271.4,350.0 L271.4,350.0 L271.4,350.0 L271.4,350.0 L271.4,350.0 L271.4,350.0 L271.4,350.0 L271.4,350.0 L271.4,350.0 L271.4,350.0 L271.4,350.0 L271.4,350.0 L271.4,350.0 L271.2,349.3 L271.2,349.3 L271.2,349.3 L270.7,349.6 L270.7,349.6 L270.7,349.6 L270.7,349.6 L270.7,349.6 L270.7,349.6 L270.7,349.6 L270.7,349.6 L270.7,349.6 L270.7,349.6 L270.7,349.6 L270.7,349.6 L270.7,349.6 L270.7,349.6 L270.7,349.6 L270.7,349.6 L270.7,349.6 L270.7,349.6 L270.7,349.6 L270.4,348.9 L270.4,348.9 L270.4,348.9 L270.0,349.2 L270.0,349.2 L270.0,349.2 L270.0,349.2 L270.0,349.2 L270.0,349.2 L270.0,349.2 L270.0,349.2 L270.0,349.2 L270.0,349.2 L270.0,349.2 L269.9,349.2 L269.9,349.2 L269.9,349.2 L269.9,349.2 L269.9,349.2 L269.9,349.2 L269.9,349.2 L269.9,349.2 L269.7,348.6 L269.7,348.6 L269.7,348.6 L269.2,348.8 L269.2,348.8 L269.2,348.8 L269.2,348.8 L269.2,348.8 L269.2,348.8 L269.2,348.8 L269.2,348.8 L269.2,348.8 L269.2,348.8 L269.2,348.8 L269.2,348.8 L269.2,348.8 L269.2,348.8 L269.2,348.8 L269.2,348.8 L269.2,348.8 L269.2,348.8 L269.2,348.8 L269.0,348.3 L269.0,348.3 L269.0,348.3 L269.0,348.3 L269.0,348.3 L269.0,348.3 L269.0,348.3 L269.0,348.3 L269.0,348.3 L269.0,348.3 L269.0,348.3 L269.0,348.3 L269.0,348.3 L269.0,348.3 L269.0,348.3 L274.6,345.1 L274.6,345.1 L274.6,345.1 L273.9,344.3 L273.9,344.3 L273.2,343.4 L273.2,343.4 L272.5,342.6 L272.5,342.6 L271.7,341.9 L271.7,341.9 L270.9,341.1 L270.9,341.1 L270.1,340.5 L270.1,340.5 L269.2,339.8 L269.2,339.8 L268.4,339.2 L268.4,339.2 L267.5,338.7 L267.5,338.7 L266.5,338.2 L266.5,338.2 L266.2,338.0 L266.2,338.0 L265.8,337.8 L265.8,337.8 L265.5,337.6 L265.5,337.6 L265.1,337.4 L265.1,337.4 L264.7,337.2 L264.7,337.2 L264.4,337.0 L264.4,337.0 L264.0,336.8 L264.0,336.8 L263.7,336.6 L263.7,336.6 L263.3,336.4 L263.3,336.4 L262.9,336.2 L262.9,336.2 L262.6,336.1 L262.6,336.1 L262.2,335.9 L262.2,335.9 L261.9,335.7 L261.9,335.7 L261.5,335.5 L261.5,335.5 L261.2,335.3 L261.2,335.3 L260.8,335.1 L260.8,335.1 L260.4,334.9 L260.4,334.9 L260.1,334.7 L260.1,334.7 L259.7,334.5 L259.7,334.5 L259.4,334.3 L259.4,334.3 L259.0,334.1 L259.0,334.1 L258.6,333.9 L258.6,333.9 L258.3,333.8 L258.3,333.8 L257.9,333.6 L257.9,333.6 L257.6,333.4 L257.6,333.4 L257.2,333.2 L257.2,333.2 L256.9,333.0 L256.8,333.0 L256.5,332.8 L256.5,332.8 L256.1,332.6 L256.1,332.6 L255.8,332.4 L255.8,332.4 L255.4,332.2 L255.4,332.2 L255.1,332.0 L255.1,332.0 L254.7,331.8 L254.7,331.8 L254.3,331.6 L254.3,331.6 L254.0,331.5 L254.0,331.5 L253.6,331.3 L253.6,331.3 L253.3,331.1 L253.3,331.1 L252.9,330.9 L252.9,330.9 L252.5,330.7 L252.5,330.7 L252.2,330.5 L252.2,330.5 L251.8,330.3 L251.8,330.3 L251.5,330.1 L251.5,330.1 L251.1,329.9 L251.1,329.9 L250.7,329.7 L250.7,329.7 L250.4,329.5 L250.4,329.5 L250.0,329.3 L250.0,329.3 L249.7,329.2 L249.7,329.2 L249.3,329.0 L249.3,329.0 L249.0,328.8 L249.0,328.8 L248.6,328.6 L248.6,328.6 L248.2,328.4 L248.2,328.4 L247.9,328.2 L247.9,328.2 L247.5,328.0 L247.5,328.0 L247.2,327.8 L247.2,327.8 L246.8,327.6 L246.8,327.6 L246.4,327.4 L246.4,327.4 L246.1,327.3 L246.1,327.3 L245.7,327.0 L245.7,327.0 L245.4,326.9 L245.4,326.9 L245.0,326.7 L245.0,326.7 L244.6,326.5 L244.6,326.5 L244.3,326.3 L244.3,326.3 L243.9,326.1 L243.9,326.1 L243.6,325.9 L243.6,325.9 L243.2,325.7 L243.2,325.7 L242.8,325.5 L242.8,325.5 L242.5,325.3 L242.5,325.3 L242.1,325.1 L242.1,325.1 L241.8,325.0 L241.8,325.0 L241.4,324.7 L241.4,324.7 L241.1,324.6 L241.1,324.6 L240.7,324.4 L240.7,324.4 L240.3,324.2 L240.3,324.2 L240.0,324.0 L240.0,324.0 L239.6,323.8 L239.6,323.8 L239.3,323.6 L239.3,323.6 L238.9,323.4 L238.9,323.4 L238.5,323.2 L238.5,323.2 L238.2,323.0 L238.2,323.0 L237.8,322.8 L237.8,322.8 L237.5,322.7 L237.5,322.7 L237.1,322.5 L237.1,322.5 L236.7,322.3 L236.7,322.3 L236.4,322.1 L236.4,322.1 L236.0,321.9 L236.0,321.9 L235.7,321.7 L235.7,321.7 L235.3,321.5 L235.3,321.5 L234.9,321.3 L234.9,321.3 L234.6,321.1 L234.6,321.1 L234.2,320.9 L234.2,320.9 L233.9,320.7 L233.9,320.7 L233.5,320.5 L233.5,320.5 L233.2,320.4 L233.2,320.4 L232.8,320.2 L232.8,320.2 L232.4,320.0 L232.4,320.0 L232.1,319.8 L232.1,319.8 L231.7,319.6 L231.7,319.6 L231.4,319.4 L231.4,319.4 L230.4,318.9 L230.4,318.9 L229.4,318.5 L229.4,318.5 L228.5,318.1 L228.5,318.1 L227.5,317.7 L227.5,317.7 L226.4,317.4 L226.4,317.4 L225.4,317.2 L225.4,317.2 L224.3,317.0 L224.3,317.0 L223.2,316.8 L223.2,316.8 L222.1,316.7 L222.1,316.7 L221.0,316.6 L221.0,316.6 L219.9,316.5 L219.9,316.5 L218.7,316.5 L218.7,316.5 L217.6,316.6 L217.6,316.6 L216.4,316.7 L216.4,316.7 L216.4,316.7 L179.5,337.7 L179.5,337.7 L179.5,337.7 L179.0,338.3 L179.0,338.3 L177.8,339.6 L177.8,339.6 L176.7,340.9 L176.7,340.9 L175.5,342.2 L175.5,342.2 L174.4,343.6 L174.4,343.6 L173.3,344.9 L173.3,344.9 L172.2,346.3 L172.2,346.3 L171.1,347.8 L171.1,347.8 L170.1,349.2 L170.1,349.2 L169.0,350.7 L169.0,350.7 L168.0,352.2 L168.0,352.2 L167.0,353.7 L167.0,353.7 L166.0,355.2 L166.0,355.2 L165.1,356.7 L165.1,356.7 L164.2,358.3 L164.2,358.3 L163.2,359.9 L163.2,359.9 L162.4,361.5 L162.4,361.5 L161.5,363.1 L161.5,363.1 L160.7,364.7 L160.7,364.7 L159.9,366.3 L159.9,366.3 L159.1,367.9 L159.1,367.9 L158.3,369.6 L158.3,369.6 L157.6,371.2 L157.6,371.2 L156.9,372.9 L156.9,372.9 L156.2,374.5 L156.2,374.5 L155.6,376.2 L155.6,376.2 L155.0,377.9 L155.0,377.9 L154.4,379.5 L154.4,379.5 L153.8,381.2 L153.8,381.2 L153.3,382.9 L153.3,382.9 L152.8,384.5 L152.8,384.5 L152.4,386.2 L152.4,386.2 L151.9,387.8 L151.9,387.8 L151.7,388.8 L151.7,388.8 L151.7,388.8 L151.7,424.0Z" fill="url(#gSide)" stroke="#2e2a66" stroke-width="1"/>
<path d="M186.9,408.2 L151.7,389.4 L151.7,425.4 L186.9,444.2 L186.9,442.7Z" fill="#8d8d93" stroke="#2e2a66" stroke-width="0.9"/>
<path d="M251.6,335.4 L216.4,316.7 L179.3,337.9 L214.5,356.6Z" fill="#c9c9ce" stroke="#2e2a66" stroke-width="0.9"/>
<path d="M280.0,353.0 L270.1,347.7 L221.8,375.2 L221.8,375.2 L221.8,375.2 L221.8,375.2 L221.8,375.2 L221.6,375.2 L221.6,375.2 L221.3,375.3 L221.3,375.3 L221.1,375.3 L221.1,375.3 L220.9,375.3 L220.9,375.3 L220.6,375.4 L220.6,375.4 L220.3,375.5 L220.3,375.5 L220.1,375.6 L220.1,375.6 L219.8,375.7 L219.8,375.7 L219.6,375.8 L219.6,375.8 L219.3,375.9 L219.3,375.9 L219.0,376.1 L219.0,376.1 L218.8,376.3 L218.8,376.3 L218.5,376.5 L218.5,376.5 L218.3,376.7 L218.3,376.7 L218.0,376.9 L218.0,376.9 L217.8,377.1 L217.8,377.1 L217.5,377.3 L217.5,377.3 L217.3,377.6 L217.3,377.6 L217.0,377.8 L217.0,377.8 L216.8,378.1 L216.8,378.1 L216.6,378.4 L216.6,378.4 L216.4,378.7 L216.4,378.7 L216.1,379.0 L216.1,379.0 L215.9,379.3 L215.9,379.3 L215.7,379.6 L215.7,379.6 L215.5,379.9 L215.5,379.9 L215.4,380.2 L215.4,380.2 L215.2,380.6 L215.2,380.6 L215.0,380.9 L215.0,380.9 L214.9,381.2 L214.9,381.2 L214.7,381.6 L214.7,381.6 L214.6,381.9 L214.6,381.9 L214.5,382.3 L214.5,382.3 L214.4,382.6 L214.4,382.6 L214.3,382.9 L214.3,382.9 L214.2,383.3 L214.2,383.3 L214.1,383.6 L214.1,383.6 L214.1,383.9 L214.1,383.9 L214.0,384.3 L214.0,384.3 L214.0,384.6 L214.0,384.6 L214.0,384.8 L219.3,387.7Z" fill="#cdcdd2" stroke="#2e2a66" stroke-width="0.9"/>
<path d="M248.0,420.5 L237.8,415.0 L187.3,443.9 L187.3,443.9 L187.3,443.9 L187.1,443.4 L187.1,443.4 L187.1,443.3 L187.1,443.3 L187.1,443.3 L187.1,443.3 L187.1,443.3 L187.1,443.3 L187.1,443.3 L187.1,443.3 L187.1,443.3 L187.1,443.3 L187.1,443.3 L187.1,443.3 L187.1,443.3 L187.1,443.3 L187.1,443.3 L187.1,443.3 L187.1,443.3 L187.1,443.3 L187.1,443.3 L186.6,443.5 L186.6,443.5 L186.6,443.5 L186.4,443.0 L186.4,443.0 L186.4,442.9 L186.4,442.9 L186.4,442.9 L186.4,442.9 L186.4,442.9 L186.4,442.9 L186.4,442.9 L186.4,442.9 L186.4,442.9 L186.4,442.9 L186.4,442.9 L186.4,442.9 L186.4,442.9 L186.4,442.9 L186.4,442.9 L186.4,442.9 L186.4,442.9 L186.4,442.9 L186.3,442.9 L185.9,443.2 L185.9,443.2 L185.9,443.2 L185.7,442.6 L185.7,442.6 L185.6,442.5 L185.6,442.5 L185.6,442.5 L185.6,442.5 L185.6,442.5 L185.6,442.5 L185.6,442.5 L185.6,442.5 L185.6,442.5 L185.6,442.5 L185.6,442.5 L185.6,442.5 L185.6,442.5 L185.6,442.5 L185.6,442.5 L185.6,442.5 L185.6,442.5 L185.6,442.5 L185.6,442.5 L185.2,442.8 L185.2,442.8 L185.2,442.8 L185.0,442.3 L185.0,442.3 L184.9,442.1 L184.9,442.1 L184.9,442.1 L184.9,442.1 L184.9,442.1 L184.9,442.1 L184.9,442.1 L184.9,442.1 L184.9,442.1 L184.9,442.1 L184.9,442.1 L184.9,442.1 L184.9,442.1 L184.9,442.1 L184.9,442.1 L184.9,442.1 L184.9,442.1 L184.9,442.1 L184.9,442.1 L184.4,442.4 L184.4,442.4 L184.4,442.4 L184.3,441.9 L184.3,441.9 L184.2,441.7 L184.2,441.7 L184.2,441.7 L184.2,441.7 L184.2,441.7 L184.2,441.7 L184.2,441.7 L184.2,441.7 L184.2,441.7 L184.2,441.7 L184.2,441.7 L184.2,441.7 L184.2,441.7 L184.2,441.7 L184.2,441.7 L184.2,441.7 L184.2,441.7 L184.2,441.7 L184.2,441.7 L183.7,442.0 L183.7,442.0 L183.7,442.0 L183.5,441.5 L183.5,441.5 L183.5,441.4 L183.5,441.4 L183.5,441.4 L183.5,441.4 L183.5,441.4 L183.5,441.4 L183.5,441.4 L183.5,441.4 L183.5,441.4 L183.5,441.4 L183.5,441.4 L183.5,441.4 L183.5,441.4 L183.5,441.4 L183.5,441.4 L183.5,441.4 L183.5,441.4 L183.5,441.4 L183.5,441.4 L183.0,441.6 L183.0,441.6 L183.0,441.6 L182.8,441.1 L182.8,441.1 L182.8,441.0 L182.8,441.0 L182.8,441.0 L182.8,441.0 L182.8,441.0 L182.8,441.0 L182.8,441.0 L182.8,441.0 L182.8,441.0 L182.8,441.0 L182.8,441.0 L182.8,441.0 L182.8,441.0 L182.8,441.0 L182.8,441.0 L182.8,441.0 L182.8,441.0 L182.8,441.0 L182.8,441.0 L182.3,441.2 L182.3,441.2 L182.3,441.2 L182.1,440.7 L182.1,440.7 L182.1,440.6 L182.1,440.6 L182.1,440.6 L182.1,440.6 L182.1,440.6 L182.1,440.6 L182.1,440.6 L182.1,440.6 L182.1,440.6 L182.1,440.6 L182.0,440.6 L182.0,440.6 L182.0,440.6 L182.0,440.6 L182.0,440.6 L182.0,440.6 L182.0,440.6 L182.0,440.6 L182.0,440.6 L181.6,440.9 L181.6,440.9 L181.6,440.9 L181.4,440.3 L181.4,440.3 L181.3,440.2 L181.3,440.2 L181.3,440.2 L181.3,440.2 L181.3,440.2 L181.3,440.2 L181.3,440.2 L181.3,440.2 L181.3,440.2 L181.3,440.2 L181.3,440.2 L181.3,440.2 L181.3,440.2 L181.3,440.2 L181.3,440.2 L181.3,440.2 L181.3,440.2 L181.3,440.2 L181.3,440.2 L180.9,440.5 L180.9,440.5 L180.9,440.5 L180.7,440.0 L180.7,440.0 L180.6,439.8 L180.6,439.8 L180.6,439.8 L180.6,439.8 L180.6,439.8 L180.6,439.8 L180.6,439.8 L180.6,439.8 L180.6,439.8 L180.6,439.8 L180.6,439.8 L180.6,439.8 L180.6,439.8 L180.6,439.8 L180.6,439.8 L180.6,439.8 L180.6,439.8 L180.6,439.8 L180.6,439.8 L180.1,440.1 L180.1,440.1 L180.1,440.1 L179.9,439.6 L179.9,439.6 L179.9,439.4 L179.9,439.4 L179.9,439.4 L179.9,439.4 L179.9,439.4 L179.9,439.4 L179.9,439.4 L179.9,439.4 L179.9,439.4 L179.9,439.4 L179.9,439.4 L179.9,439.4 L179.9,439.4 L179.9,439.4 L179.9,439.4 L179.9,439.4 L179.9,439.4 L179.9,439.4 L179.9,439.4 L179.4,439.7 L179.4,439.7 L179.4,439.7 L179.2,439.2 L179.2,439.2 L179.2,439.1 L179.2,439.1 L179.2,439.1 L179.2,439.1 L179.2,439.1 L179.2,439.1 L179.2,439.1 L179.2,439.1 L179.2,439.1 L179.2,439.1 L179.2,439.1 L179.2,439.1 L179.2,439.1 L179.2,439.1 L179.2,439.1 L179.2,439.1 L179.2,439.1 L179.2,439.1 L179.2,439.1 L178.7,439.3 L178.7,439.3 L178.7,439.3 L178.5,438.8 L178.5,438.8 L178.5,438.7 L178.5,438.7 L178.5,438.7 L178.5,438.7 L178.5,438.7 L178.5,438.7 L178.5,438.7 L178.5,438.7 L178.5,438.7 L178.5,438.7 L178.5,438.7 L178.5,438.7 L178.5,438.7 L178.5,438.7 L178.5,438.7 L178.5,438.7 L178.5,438.7 L178.5,438.7 L178.5,438.7 L178.0,438.9 L178.0,438.9 L178.0,438.9 L177.8,438.4 L177.8,438.4 L177.7,438.3 L177.7,438.3 L177.7,438.3 L177.7,438.3 L177.7,438.3 L177.7,438.3 L177.7,438.3 L177.7,438.3 L177.7,438.3 L177.7,438.3 L177.7,438.3 L177.7,438.3 L177.7,438.3 L177.7,438.3 L177.7,438.3 L177.7,438.3 L177.7,438.3 L177.7,438.3 L177.7,438.3 L177.3,438.6 L177.3,438.6 L177.3,438.6 L177.1,438.0 L177.1,438.0 L177.0,437.9 L177.0,437.9 L177.0,437.9 L177.0,437.9 L177.0,437.9 L177.0,437.9 L177.0,437.9 L177.0,437.9 L177.0,437.9 L177.0,437.9 L177.0,437.9 L177.0,437.9 L177.0,437.9 L177.0,437.9 L177.0,437.9 L177.0,437.9 L177.0,437.9 L177.0,437.9 L177.0,437.9 L176.5,438.2 L176.5,438.2 L176.5,438.2 L176.4,437.7 L176.4,437.7 L176.3,437.5 L176.3,437.5 L176.3,437.5 L176.3,437.5 L176.3,437.5 L176.3,437.5 L176.3,437.5 L176.3,437.5 L176.3,437.5 L176.3,437.5 L176.3,437.5 L176.3,437.5 L176.3,437.5 L176.3,437.5 L176.3,437.5 L176.3,437.5 L176.3,437.5 L176.3,437.5 L176.3,437.5 L175.8,437.8 L175.8,437.8 L175.8,437.8 L175.6,437.3 L175.6,437.3 L175.6,437.1 L175.6,437.1 L175.6,437.1 L175.6,437.1 L175.6,437.1 L175.6,437.1 L175.6,437.1 L175.6,437.1 L175.6,437.1 L175.6,437.1 L175.6,437.1 L175.6,437.1 L175.6,437.1 L175.6,437.1 L175.6,437.1 L175.6,437.1 L175.6,437.1 L175.6,437.1 L175.6,437.1 L175.1,437.4 L175.1,437.4 L175.1,437.4 L174.9,436.9 L174.9,436.9 L174.9,436.8 L174.9,436.8 L174.9,436.8 L174.9,436.8 L174.9,436.8 L174.9,436.8 L174.9,436.8 L174.9,436.8 L174.9,436.8 L174.9,436.8 L174.9,436.8 L174.9,436.8 L174.9,436.8 L174.9,436.8 L174.9,436.8 L174.9,436.8 L174.9,436.8 L174.9,436.8 L174.9,436.8 L174.4,437.0 L174.4,437.0 L174.4,437.0 L174.2,436.5 L174.2,436.5 L174.2,436.4 L174.2,436.4 L174.2,436.4 L174.2,436.4 L174.2,436.4 L174.2,436.4 L174.2,436.4 L174.2,436.4 L174.2,436.4 L174.2,436.4 L174.2,436.4 L174.2,436.4 L174.1,436.4 L174.1,436.4 L174.1,436.4 L174.1,436.4 L174.1,436.4 L174.1,436.4 L174.1,436.4 L173.7,436.6 L173.7,436.6 L173.7,436.6 L173.5,436.1 L173.5,436.1 L173.4,436.0 L173.4,436.0 L173.4,436.0 L173.4,436.0 L173.4,436.0 L173.4,436.0 L173.4,436.0 L173.4,436.0 L173.4,436.0 L173.4,436.0 L173.4,436.0 L173.4,436.0 L173.4,436.0 L173.4,436.0 L173.4,436.0 L173.4,436.0 L173.4,436.0 L173.4,436.0 L173.4,436.0 L173.0,436.3 L173.0,436.3 L173.0,436.3 L172.8,435.7 L172.8,435.7 L172.7,435.6 L172.7,435.6 L172.7,435.6 L172.7,435.6 L172.7,435.6 L172.7,435.6 L172.7,435.6 L172.7,435.6 L172.7,435.6 L172.7,435.6 L172.7,435.6 L172.7,435.6 L172.7,435.6 L172.7,435.6 L172.7,435.6 L172.7,435.6 L172.7,435.6 L172.7,435.6 L172.7,435.6 L172.2,435.9 L172.2,435.9 L172.2,435.9 L172.0,435.4 L172.0,435.4 L172.0,435.2 L172.0,435.2 L172.0,435.2 L172.0,435.2 L172.0,435.2 L172.0,435.2 L172.0,435.2 L172.0,435.2 L172.0,435.2 L172.0,435.2 L172.0,435.2 L172.0,435.2 L172.0,435.2 L172.0,435.2 L172.0,435.2 L172.0,435.2 L172.0,435.2 L172.0,435.2 L172.0,435.2 L171.5,435.5 L171.5,435.5 L171.5,435.5 L171.3,435.0 L171.3,435.0 L171.3,434.8 L171.3,434.8 L171.3,434.8 L171.3,434.8 L171.3,434.8 L171.3,434.8 L171.3,434.8 L171.3,434.8 L171.3,434.8 L171.3,434.8 L171.3,434.8 L171.3,434.8 L171.3,434.8 L171.3,434.8 L171.3,434.8 L171.3,434.8 L171.3,434.8 L171.3,434.8 L171.3,434.8 L170.8,435.1 L170.8,435.1 L170.8,435.1 L170.6,434.6 L170.6,434.6 L170.6,434.5 L170.6,434.5 L170.6,434.5 L170.6,434.5 L170.6,434.5 L170.6,434.5 L170.6,434.5 L170.6,434.5 L170.6,434.5 L170.6,434.5 L170.6,434.5 L170.6,434.5 L170.6,434.5 L170.6,434.5 L170.6,434.5 L170.6,434.5 L170.6,434.5 L170.6,434.5 L170.6,434.5 L170.1,434.7 L170.1,434.7 L170.1,434.7 L169.9,434.2 L169.9,434.2 L169.9,434.1 L169.8,434.1 L169.8,434.1 L169.8,434.1 L169.8,434.1 L169.8,434.1 L169.8,434.1 L169.8,434.1 L169.8,434.1 L169.8,434.1 L169.8,434.1 L169.8,434.1 L169.8,434.1 L169.8,434.1 L169.8,434.1 L169.8,434.1 L169.8,434.1 L169.8,434.1 L169.8,434.1 L169.4,434.3 L169.4,434.3 L169.4,434.3 L169.2,433.8 L169.2,433.8 L169.1,433.7 L169.1,433.7 L169.1,433.7 L169.1,433.7 L169.1,433.7 L169.1,433.7 L169.1,433.7 L169.1,433.7 L169.1,433.7 L169.1,433.7 L169.1,433.7 L169.1,433.7 L169.1,433.7 L169.1,433.7 L169.1,433.7 L169.1,433.7 L169.1,433.7 L169.1,433.7 L169.1,433.7 L168.6,434.0 L168.6,434.0 L168.6,434.0 L168.5,433.4 L168.5,433.4 L168.4,433.3 L168.4,433.3 L168.4,433.3 L168.4,433.3 L168.4,433.3 L168.4,433.3 L168.4,433.3 L168.4,433.3 L168.4,433.3 L168.4,433.3 L168.4,433.3 L168.4,433.3 L168.4,433.3 L168.4,433.3 L168.4,433.3 L168.4,433.3 L168.4,433.3 L168.4,433.3 L168.4,433.3 L167.9,433.6 L167.9,433.6 L167.9,433.6 L167.7,433.1 L167.7,433.1 L167.7,432.9 L167.7,432.9 L167.7,432.9 L167.7,432.9 L167.7,432.9 L167.7,432.9 L167.7,432.9 L167.7,432.9 L167.7,432.9 L167.7,432.9 L167.7,432.9 L167.7,432.9 L167.7,432.9 L167.7,432.9 L167.7,432.9 L167.7,432.9 L167.7,432.9 L167.7,432.9 L167.7,432.9 L167.2,433.2 L167.2,433.2 L167.2,433.2 L167.0,432.7 L167.0,432.7 L167.0,432.6 L167.0,432.5 L167.0,432.5 L167.0,432.5 L167.0,432.5 L167.0,432.5 L167.0,432.5 L167.0,432.5 L167.0,432.5 L167.0,432.5 L167.0,432.5 L167.0,432.5 L167.0,432.5 L167.0,432.5 L167.0,432.5 L167.0,432.5 L167.0,432.5 L167.0,432.5 L167.0,432.5 L166.5,432.8 L166.5,432.8 L166.5,432.8 L166.3,432.3 L166.3,432.3 L166.3,432.2 L166.3,432.2 L166.3,432.2 L166.3,432.2 L166.3,432.2 L166.3,432.2 L166.3,432.2 L166.3,432.2 L166.3,432.2 L166.3,432.2 L166.3,432.2 L166.3,432.2 L166.3,432.2 L166.3,432.2 L166.2,432.2 L166.2,432.2 L166.2,432.2 L166.2,432.2 L166.2,432.2 L165.8,432.4 L165.8,432.4 L165.8,432.4 L165.6,431.9 L165.6,431.9 L165.5,431.8 L165.5,431.8 L165.5,431.8 L165.5,431.8 L165.5,431.8 L165.5,431.8 L165.5,431.8 L165.5,431.8 L165.5,431.8 L165.5,431.8 L165.5,431.8 L165.5,431.8 L165.5,431.8 L165.5,431.8 L165.5,431.8 L165.5,431.8 L165.5,431.8 L165.5,431.8 L165.5,431.8 L165.1,432.0 L165.1,432.0 L165.1,432.0 L164.9,431.5 L164.9,431.5 L164.8,431.4 L164.8,431.4 L164.8,431.4 L164.8,431.4 L164.8,431.4 L164.8,431.4 L164.8,431.4 L164.8,431.4 L164.8,431.4 L164.8,431.4 L164.8,431.4 L164.8,431.4 L164.8,431.4 L164.8,431.4 L164.8,431.4 L164.8,431.4 L164.8,431.4 L164.8,431.4 L164.8,431.4 L164.3,431.7 L164.3,431.7 L164.3,431.7 L164.1,431.1 L164.1,431.1 L164.1,431.0 L164.1,431.0 L164.1,431.0 L164.1,431.0 L164.1,431.0 L164.1,431.0 L164.1,431.0 L164.1,431.0 L164.1,431.0 L164.1,431.0 L164.1,431.0 L164.1,431.0 L164.1,431.0 L164.1,431.0 L164.1,431.0 L164.1,431.0 L164.1,431.0 L164.1,431.0 L164.1,431.0 L163.6,431.3 L163.6,431.3 L163.6,431.3 L163.4,430.8 L163.4,430.8 L163.4,430.6 L163.4,430.6 L163.4,430.6 L163.4,430.6 L163.4,430.6 L163.4,430.6 L163.4,430.6 L163.4,430.6 L163.4,430.6 L163.4,430.6 L163.4,430.6 L163.4,430.6 L163.4,430.6 L163.4,430.6 L163.4,430.6 L163.4,430.6 L163.4,430.6 L163.4,430.6 L163.4,430.6 L162.9,430.9 L162.9,430.9 L162.9,430.9 L162.7,430.4 L162.7,430.4 L162.7,430.3 L156.8,433.7 L191.9,452.5Z" fill="#cdcdd2" stroke="#2e2a66" stroke-width="0.9"/>
<path d="M255.1,437.1 L256.2,435.7 L257.3,434.4 L258.4,433.0 L259.5,431.6 L260.6,430.1 L261.6,428.7 L262.6,427.2 L263.6,425.7 L264.6,424.2 L265.6,422.6 L266.5,421.1 L267.5,419.5 L268.4,417.9 L269.2,416.4 L270.1,414.7 L270.9,413.1 L271.7,411.5 L272.5,409.9 L273.2,408.2 L273.9,406.6 L274.6,404.9 L275.2,403.3 L275.9,401.6 L276.5,399.9 L277.0,398.3 L277.6,396.6 L278.1,394.9 L278.6,393.3 L279.0,391.6 L279.4,389.9 L279.8,388.3 L280.0,387.4 L280.0,356.5 L279.8,355.8 L279.4,354.6 L279.1,353.5 L221.8,386.2 L221.8,386.2 L221.6,386.5 L221.3,386.8 L221.1,387.0 L220.9,387.3 L220.6,387.5 L220.3,387.7 L220.1,387.9 L219.8,388.1 L219.6,388.3 L219.3,388.4 L219.0,388.6 L218.8,388.7 L218.5,388.8 L218.3,388.9 L218.0,389.0 L217.8,389.0 L217.5,389.1 L217.3,389.1 L217.0,389.1 L216.8,389.1 L216.6,389.1 L216.4,389.0 L216.1,389.0 L215.9,388.9 L215.7,388.8 L215.5,388.7 L215.4,388.6 L215.2,388.5 L215.0,388.3 L214.9,388.2 L214.7,388.0 L214.6,387.8 L214.5,387.6 L214.4,387.4 L214.3,387.1 L214.2,386.9 L214.1,386.6 L214.1,386.4 L214.0,386.1 L214.0,385.8 L214.0,385.5 L214.0,385.2 L214.0,384.9 L214.0,384.6 L214.0,384.3 L214.1,383.9 L214.1,383.6 L214.2,383.3 L214.3,382.9 L214.4,382.6 L214.5,382.3 L214.6,381.9 L214.7,381.6 L214.9,381.2 L215.0,380.9 L215.2,380.6 L215.4,380.2 L215.5,379.9 L215.7,379.6 L215.9,379.3 L216.1,379.0 L216.4,378.7 L216.6,378.4 L216.8,378.1 L217.0,377.8 L217.3,377.6 L217.5,377.3 L217.8,377.1 L218.0,376.9 L218.3,376.7 L218.5,376.5 L218.8,376.3 L219.0,376.1 L219.3,375.9 L219.6,375.8 L219.8,375.7 L220.1,375.6 L220.3,375.5 L220.6,375.4 L220.9,375.3 L221.1,375.3 L221.3,375.3 L221.6,375.2 L221.8,375.2 L221.8,375.2 L274.6,345.1 L273.9,344.3 L273.2,343.4 L272.5,342.6 L271.7,341.9 L270.9,341.1 L270.1,340.5 L269.2,339.8 L268.4,339.2 L267.5,338.7 L266.5,338.2 L265.6,337.7 L264.6,337.2 L263.6,336.9 L262.6,336.5 L261.6,336.2 L260.6,335.9 L259.5,335.7 L258.4,335.6 L257.3,335.4 L256.2,335.3 L255.1,335.3 L253.9,335.3 L252.7,335.3 L251.6,335.4 L214.7,356.5 L214.2,357.1 L213.0,358.3 L211.9,359.6 L210.7,361.0 L209.6,362.3 L208.5,363.7 L207.4,365.1 L206.3,366.5 L205.3,368.0 L204.2,369.4 L203.2,370.9 L202.2,372.4 L201.2,374.0 L200.3,375.5 L199.3,377.1 L198.4,378.6 L197.5,380.2 L196.7,381.8 L195.9,383.4 L195.0,385.1 L194.3,386.7 L193.5,388.3 L192.8,390.0 L192.1,391.6 L191.4,393.3 L190.8,395.0 L190.2,396.6 L189.6,398.3 L189.0,400.0 L188.5,401.6 L188.0,403.3 L187.6,405.0 L187.1,406.6 L186.9,407.5 L186.9,442.7 L187.1,443.4 L187.3,443.9 L245.7,410.6 L245.7,410.5 L246.0,410.3 L246.2,410.0 L246.5,409.8 L246.7,409.5 L247.0,409.3 L247.2,409.1 L247.5,409.0 L247.7,408.8 L248.0,408.6 L248.3,408.5 L248.5,408.4 L248.8,408.2 L249.0,408.1 L249.3,408.1 L249.6,408.0 L249.8,408.0 L250.0,407.9 L250.3,407.9 L250.5,407.9 L250.7,407.9 L251.0,408.0 L251.2,408.0 L251.4,408.1 L251.6,408.2 L251.8,408.3 L252.0,408.4 L252.1,408.6 L252.3,408.7 L252.4,408.9 L252.6,409.0 L252.7,409.2 L252.8,409.4 L252.9,409.7 L253.0,409.9 L253.1,410.1 L253.2,410.4 L253.2,410.7 L253.3,410.9 L253.3,411.2 L253.3,411.5 L253.3,411.8 L253.3,412.1 L253.3,412.4 L253.3,412.8 L253.2,413.1 L253.2,413.4 L253.1,413.8 L253.0,414.1 L252.9,414.4 L252.8,414.8 L252.7,415.1 L252.6,415.5 L252.4,415.8 L252.3,416.1 L252.1,416.5 L252.0,416.8 L251.8,417.1 L251.6,417.4 L251.4,417.7 L251.2,418.0 L251.0,418.3 L250.7,418.6 L250.5,418.9 L250.3,419.2 L250.0,419.4 L249.8,419.7 L249.6,419.9 L249.3,420.2 L249.0,420.4 L248.8,420.6 L248.5,420.8 L248.3,420.9 L248.0,421.1 L247.7,421.2 L247.5,421.4 L247.2,421.5 L247.0,421.6 L246.7,421.6 L246.5,421.7 L246.2,421.7 L246.0,421.8 L245.7,421.8 L245.7,421.8 L191.9,452.5 L192.1,452.7 L192.8,453.5 L193.5,454.4 L194.3,455.1 L195.0,455.9 L195.9,456.6 L196.7,457.2 L197.5,457.9 L198.4,458.4 L199.3,459.0 L200.3,459.5 L201.2,459.9 L202.2,460.3 L203.2,460.7 L204.2,461.0 L205.3,461.3 L206.3,461.6 L207.4,461.8 L208.5,461.9 L209.6,462.0 L210.7,462.1 L211.9,462.1 L213.0,462.1 L214.2,462.0 L214.7,462.0 L251.6,440.9 L252.7,439.7 L253.9,438.4Z" fill="#a9a9af" stroke="#2e2a66" stroke-width="1"/>
<path d="M249.1,389.4 L249.0,391.1 L248.8,392.8 L248.5,394.5 L248.1,396.3 L247.6,398.1 L246.9,399.9 L246.2,401.7 L245.4,403.4 L244.4,405.1 L243.4,406.8 L242.3,408.4 L241.2,409.9 L240.0,411.4 L238.7,412.7 L237.4,413.9 L236.0,415.1 L234.7,416.0 L233.3,416.9 L231.9,417.6 L230.6,418.2 L229.2,418.6 L227.9,418.9 L226.7,419.0 L225.4,418.9 L224.3,418.7 L223.2,418.4 L222.2,417.9 L221.2,417.2 L220.4,416.4 L219.7,415.5 L219.0,414.4 L218.5,413.2 L218.1,411.9 L217.8,410.5 L217.6,409.0 L217.6,407.4 L217.6,405.8 L217.8,404.1 L218.1,402.4 L218.5,400.6 L219.0,398.8 L219.7,397.0 L220.4,395.2 L221.2,393.5 L222.2,391.8 L223.2,390.1 L224.3,388.5 L225.4,387.0 L226.7,385.5 L227.9,384.2 L229.2,383.0 L230.6,381.8 L231.9,380.9 L233.3,380.0 L234.7,379.3 L236.0,378.7 L237.4,378.3 L238.7,378.0 L240.0,377.9 L241.2,378.0 L242.3,378.2 L243.4,378.5 L244.4,379.0 L245.4,379.7 L246.2,380.5 L246.9,381.4 L247.6,382.5 L248.1,383.7 L248.5,385.0 L248.8,386.4 L249.0,387.9Z" fill="#6a6a80"/>
<linearGradient id="gHole" gradientUnits="userSpaceOnUse" x1="224" y1="384" x2="244" y2="414"><stop offset="0" stop-color="#262638"/><stop offset="0.5" stop-color="#464658"/><stop offset="0.85" stop-color="#9a9aae"/><stop offset="1" stop-color="#6a6a7e"/></linearGradient>
<path d="M247.8,391.8 L247.8,393.2 L247.6,394.7 L247.4,396.1 L247.0,397.6 L246.6,399.1 L246.0,400.7 L245.4,402.2 L244.7,403.6 L243.9,405.1 L243.1,406.5 L242.1,407.9 L241.2,409.1 L240.1,410.4 L239.1,411.5 L238.0,412.5 L236.8,413.5 L235.7,414.3 L234.5,415.0 L233.4,415.6 L232.2,416.1 L231.1,416.5 L230.0,416.7 L228.9,416.8 L227.9,416.7 L226.9,416.6 L226.0,416.3 L225.1,415.8 L224.3,415.3 L223.6,414.6 L223.0,413.8 L222.5,412.9 L222.0,411.9 L221.7,410.8 L221.4,409.6 L221.3,408.4 L221.2,407.0 L221.3,405.7 L221.4,404.2 L221.7,402.8 L222.0,401.3 L222.5,399.8 L223.0,398.2 L223.6,396.7 L224.3,395.3 L225.1,393.8 L226.0,392.4 L226.9,391.0 L227.9,389.8 L228.9,388.5 L230.0,387.4 L231.1,386.4 L232.2,385.4 L233.4,384.6 L234.5,383.9 L235.7,383.3 L236.8,382.8 L238.0,382.4 L239.1,382.2 L240.1,382.1 L241.2,382.2 L242.1,382.3 L243.1,382.6 L243.9,383.1 L244.7,383.6 L245.4,384.3 L246.0,385.1 L246.6,386.0 L247.0,387.0 L247.4,388.1 L247.6,389.3 L247.8,390.5Z" fill="url(#gHole)" stroke="#2a2660" stroke-width="1.3"/>
<path d="M246.5,393.8 L246.5,395.0 L246.3,396.2 L246.1,397.5 L245.8,398.7 L245.5,400.0 L245.0,401.3 L244.5,402.5 L243.9,403.8 L243.2,405.0 L242.5,406.2 L241.7,407.3 L240.9,408.4 L240.0,409.4 L239.1,410.4 L238.2,411.3 L237.3,412.1 L236.3,412.8 L235.3,413.4 L234.3,413.9 L233.4,414.3 L232.4,414.6 L231.5,414.8 L230.6,414.8 L229.7,414.8 L228.9,414.7 L228.1,414.4 L227.4,414.1 L226.7,413.6 L226.1,413.0 L225.6,412.4 L225.2,411.6 L224.8,410.8 L224.5,409.8 L224.3,408.8 L224.2,407.8 L224.1,406.6 L224.2,405.5 L224.3,404.3 L224.5,403.0 L224.8,401.8 L225.2,400.5 L225.6,399.2 L226.1,398.0 L226.7,396.7 L227.4,395.5 L228.1,394.3 L228.9,393.2 L229.7,392.1 L230.6,391.1 L231.5,390.1 L232.4,389.2 L233.4,388.4 L234.3,387.7 L235.3,387.1 L236.3,386.6 L237.3,386.2 L238.2,385.9 L239.1,385.7 L240.0,385.7 L240.9,385.7 L241.7,385.8 L242.5,386.1 L243.2,386.4 L243.9,386.9 L244.5,387.5 L245.0,388.1 L245.5,388.9 L245.8,389.7 L246.1,390.7 L246.3,391.7 L246.5,392.7Z" fill="none" stroke="#2a2660" stroke-width="0.9"/>
<path d="M246.8,390.2 L247.0,391.1 L247.1,392.1 L247.1,393.1 L247.0,394.2 L246.9,395.3 L246.8,396.4 L246.5,397.5 L246.2,398.7 L245.9,399.8 L245.5,401.0 L245.0,402.1 L244.5,403.2 L243.9,404.4 L243.3,405.4 L242.6,406.5 L241.9,407.5 L241.2,408.5 L240.4,409.5 L239.6,410.3 L238.8,411.2 L237.9,412.0 L237.1,412.7 L236.2,413.3 L235.3,413.9 L234.4,414.4 L233.5,414.8 L232.7,415.2 L231.8,415.4 L231.0,415.6" fill="none" stroke="#dcdce8" stroke-width="1.5"/>
<path d="M249.1,389.4 L249.0,391.1 L248.8,392.8 L248.5,394.5 L248.1,396.3 L247.6,398.1 L246.9,399.9 L246.2,401.7 L245.4,403.4 L244.4,405.1 L243.4,406.8 L242.3,408.4 L241.2,409.9 L240.0,411.4 L238.7,412.7 L237.4,413.9 L236.0,415.1 L234.7,416.0 L233.3,416.9 L231.9,417.6 L230.6,418.2 L229.2,418.6 L227.9,418.9 L226.7,419.0 L225.4,418.9 L224.3,418.7 L223.2,418.4 L222.2,417.9 L221.2,417.2 L220.4,416.4 L219.7,415.5 L219.0,414.4 L218.5,413.2 L218.1,411.9 L217.8,410.5 L217.6,409.0 L217.6,407.4 L217.6,405.8 L217.8,404.1 L218.1,402.4 L218.5,400.6 L219.0,398.8 L219.7,397.0 L220.4,395.2 L221.2,393.5 L222.2,391.8 L223.2,390.1 L224.3,388.5 L225.4,387.0 L226.7,385.5 L227.9,384.2 L229.2,383.0 L230.6,381.8 L231.9,380.9 L233.3,380.0 L234.7,379.3 L236.0,378.7 L237.4,378.3 L238.7,378.0 L240.0,377.9 L241.2,378.0 L242.3,378.2 L243.4,378.5 L244.4,379.0 L245.4,379.7 L246.2,380.5 L246.9,381.4 L247.6,382.5 L248.1,383.7 L248.5,385.0 L248.8,386.4 L249.0,387.9Z" fill="none" stroke="#2a2660" stroke-width="3"/>
<ellipse cx="216.3" cy="335.8" rx="13.2" ry="7" fill="#6c6c72" stroke="#2e2a66" stroke-width="0.9"/>
<ellipse cx="216.8" cy="337" rx="9" ry="4.5" fill="#808086"/>
<path d="M214,333 L214,314 L218.6,314 L218.6,333 Z" fill="#e0474f" stroke="#4a2050" stroke-width="0.8"/>
<path d="M208.3,312.2 L216.2,303.9 L223.9,312.2 Q224.5,315.8 216.2,316.2 Q207.8,315.8 208.3,312.2 Z" fill="#e6525a" stroke="#4a2050" stroke-width="0.8"/>
<ellipse cx="216.2" cy="465.2" rx="7" ry="3.6" fill="#e0474f" stroke="#4a2050" stroke-width="0.8"/>
<rect x="213.8" y="461.5" width="4.6" height="3" fill="#e0474f"/>
<linearGradient id="gc_nut" gradientUnits="userSpaceOnUse" x1="154.9" y1="402.2" x2="172.8" y2="438.0"><stop offset="0" stop-color="#f4f4f6"/><stop offset="0.5" stop-color="#e8e8ec"/><stop offset="1" stop-color="#9c9ca4"/></linearGradient>
<path d="M156.2,401.3 L169.3,399.7 L163.8,402.8 L150.7,404.5Z" fill="#f0f0f4" stroke="#2e2a66" stroke-width="0.8"/>
<path d="M169.3,399.7 L182.4,415.3 L177.0,418.4 L163.8,402.8Z" fill="#c0c0c8" stroke="#2e2a66" stroke-width="0.8"/>
<path d="M182.4,415.3 L182.4,432.6 L177.0,435.8 L177.0,418.4Z" fill="#b0b0b8" stroke="#2e2a66" stroke-width="0.8"/>
<path d="M163.8,437.4 L150.7,421.8 L150.7,404.5 L163.8,402.8 L177.0,418.4 L177.0,435.8Z" fill="#dcdce2" stroke="#2e2a66" stroke-width="0.9"/>
<linearGradient id="gc_ring" gradientUnits="userSpaceOnUse" x1="143.3" y1="409.6" x2="160.6" y2="444.2"><stop offset="0" stop-color="#e6e6ea"/><stop offset="0.3" stop-color="#f8f8fa"/><stop offset="0.55" stop-color="#d4d4da"/><stop offset="1" stop-color="#8e8e98"/></linearGradient>
<path d="M155.8,402.1 L154.7,402.4 L153.7,402.7 L152.7,403.2 L141.6,409.5 L140.7,410.2 L140.0,410.9 L139.3,411.8 L138.7,412.7 L138.2,413.8 L137.8,415.0 L137.5,416.3 L137.4,417.7 L137.3,419.1 L137.4,420.6 L137.5,422.1 L137.8,423.7 L138.2,425.3 L138.7,426.9 L139.3,428.5 L140.0,430.1 L140.7,431.7 L141.6,433.2 L142.5,434.7 L143.5,436.1 L144.6,437.5 L145.8,438.8 L146.9,439.9 L148.2,441.0 L149.4,442.0 L150.7,442.9 L151.9,443.6 L153.2,444.2 L154.5,444.7 L155.7,445.1 L157.0,445.3 L158.1,445.4 L159.3,445.3 L160.4,445.1 L161.4,444.7 L162.3,444.3 L173.4,437.9 L174.3,437.3 L175.1,436.5 L175.8,435.7 L176.4,434.7 L176.8,433.6 L177.2,432.4 L177.5,431.1 L177.7,429.8 L177.7,428.4 L177.7,426.9 L177.5,425.3 L177.2,423.8 L176.8,422.2 L176.4,420.6 L175.8,418.9 L175.1,417.3 L174.3,415.8 L173.4,414.2 L172.5,412.7 L171.5,411.3 L170.4,410.0 L169.3,408.7 L168.1,407.5 L166.9,406.4 L165.6,405.4 L164.4,404.6 L163.1,403.8 L161.8,403.2 L160.5,402.7 L159.3,402.4 L158.1,402.1 L156.9,402.1Z" fill="url(#gc_ring)" stroke="#2e2a66" stroke-width="0.9"/>
<path d="M153.2,444.2 L154.5,444.7 L155.7,445.1 L157.0,445.3 L158.1,445.4 L159.3,445.3 L160.4,445.1 L161.4,444.7 L162.3,444.3 L163.2,443.6 L163.9,442.9 L164.6,442.0 L165.2,441.1 L165.7,440.0 L166.1,438.8 L166.4,437.5 L166.5,436.1 L166.6,434.7 L166.5,433.2 L166.4,431.7 L166.1,430.1 L165.7,428.5 L165.2,426.9 L164.6,425.3 L163.9,423.7 L163.2,422.1 L162.3,420.6 L161.4,419.1 L160.4,417.7 L159.3,416.3 L158.1,415.0 L157.0,413.9 L155.7,412.8 L154.5,411.8 L153.2,410.9 L151.9,410.2 L150.7,409.6 L149.4,409.1 L148.2,408.7 L146.9,408.5 L145.8,408.4 L144.6,408.5 L143.5,408.7 L142.5,409.1 L141.6,409.5 L140.7,410.2 L140.0,410.9 L139.3,411.8 L138.7,412.7 L138.2,413.8 L137.8,415.0 L137.5,416.3 L137.4,417.7 L137.3,419.1 L137.4,420.6 L137.5,422.1 L137.8,423.7 L138.2,425.3 L138.7,426.9 L139.3,428.5 L140.0,430.1 L140.7,431.7 L141.6,433.2 L142.5,434.7 L143.5,436.1 L144.6,437.5 L145.8,438.8 L146.9,439.9 L148.2,441.0 L149.4,442.0 L150.7,442.9 L151.9,443.6Z" fill="#cfcfd6" stroke="#2e2a66" stroke-width="0.9"/>
<linearGradient id="gc_cone" gradientUnits="userSpaceOnUse" x1="108.7" y1="429.4" x2="126.0" y2="463.9"><stop offset="0" stop-color="#e6e6ea"/><stop offset="0.3" stop-color="#f8f8fa"/><stop offset="0.55" stop-color="#d4d4da"/><stop offset="1" stop-color="#8e8e98"/></linearGradient>
<path d="M144.7,408.6 L143.6,408.8 L142.6,409.2 L141.6,409.6 L140.8,410.2 L108.6,433.5 L108.0,434.1 L107.4,434.8 L107.0,435.6 L106.6,436.4 L106.3,437.3 L106.1,438.3 L105.9,439.4 L105.9,440.5 L105.9,441.7 L106.1,442.9 L106.3,444.1 L106.6,445.4 L107.0,446.7 L107.4,447.9 L108.0,449.2 L108.6,450.4 L109.2,451.6 L110.0,452.8 L110.8,453.9 L111.6,455.0 L112.5,456.0 L113.4,456.9 L114.4,457.7 L115.4,458.5 L116.4,459.2 L117.4,459.8 L118.4,460.3 L119.4,460.6 L120.3,460.9 L121.3,461.1 L122.2,461.1 L123.1,461.1 L124.0,460.9 L124.8,460.7 L161.3,444.6 L162.3,444.2 L163.1,443.6 L163.9,442.8 L164.6,442.0 L165.2,441.0 L165.6,439.9 L166.0,438.7 L166.3,437.4 L166.5,436.1 L166.5,434.7 L166.5,433.2 L166.3,431.7 L166.0,430.1 L165.6,428.5 L165.2,426.9 L164.6,425.3 L163.9,423.7 L163.1,422.2 L162.3,420.6 L161.3,419.1 L160.3,417.7 L159.2,416.4 L158.1,415.1 L156.9,413.9 L155.7,412.8 L154.5,411.9 L153.2,411.0 L151.9,410.3 L150.7,409.6 L149.4,409.2 L148.2,408.8 L147.0,408.6 L145.8,408.5Z" fill="url(#gc_cone)" stroke="#2e2a66" stroke-width="0.9"/>
<path d="M118.4,460.3 L119.4,460.6 L120.3,460.9 L121.3,461.1 L122.2,461.1 L123.1,461.1 L124.0,460.9 L124.8,460.7 L125.5,460.3 L126.2,459.8 L126.8,459.2 L127.3,458.5 L127.8,457.8 L128.2,456.9 L128.5,456.0 L128.7,455.0 L128.8,453.9 L128.9,452.8 L128.8,451.6 L128.7,450.4 L128.5,449.2 L128.2,447.9 L127.8,446.7 L127.3,445.4 L126.8,444.2 L126.2,442.9 L125.5,441.7 L124.8,440.5 L124.0,439.4 L123.1,438.4 L122.2,437.4 L121.3,436.4 L120.3,435.6 L119.4,434.8 L118.4,434.1 L117.4,433.5 L116.4,433.1 L115.4,432.7 L114.4,432.4 L113.4,432.2 L112.5,432.2 L111.6,432.2 L110.8,432.4 L110.0,432.7 L109.2,433.1 L108.6,433.5 L108.0,434.1 L107.4,434.8 L107.0,435.6 L106.6,436.4 L106.3,437.3 L106.1,438.3 L105.9,439.4 L105.9,440.5 L105.9,441.7 L106.1,442.9 L106.3,444.1 L106.6,445.4 L107.0,446.7 L107.4,447.9 L108.0,449.2 L108.6,450.4 L109.2,451.6 L110.0,452.8 L110.8,453.9 L111.6,455.0 L112.5,456.0 L113.4,456.9 L114.4,457.7 L115.4,458.5 L116.4,459.2 L117.4,459.8Z" fill="#cfcfd6" stroke="#2e2a66" stroke-width="0.9"/>
<linearGradient id="gc_blk" gradientUnits="userSpaceOnUse" x1="88.9" y1="450.9" x2="98.2" y2="469.6"><stop offset="0" stop-color="#5c5c62"/><stop offset="0.35" stop-color="#2c2c32"/><stop offset="0.6" stop-color="#404046"/><stop offset="1" stop-color="#1c1c22"/></linearGradient>
<path d="M113.4,436.7 L112.8,436.9 L112.3,437.0 L111.8,437.3 L88.0,450.9 L87.5,451.2 L87.1,451.6 L86.7,452.1 L86.4,452.6 L86.1,453.2 L85.9,453.9 L85.8,454.5 L85.7,455.3 L85.7,456.0 L85.7,456.8 L85.8,457.7 L85.9,458.5 L86.1,459.4 L86.4,460.3 L86.7,461.1 L87.1,462.0 L87.5,462.8 L88.0,463.7 L88.5,464.5 L89.0,465.2 L89.6,466.0 L90.2,466.7 L90.9,467.3 L91.5,467.9 L92.2,468.4 L92.9,468.9 L93.6,469.3 L94.3,469.6 L94.9,469.9 L95.6,470.1 L96.3,470.2 L96.9,470.2 L97.5,470.2 L98.1,470.1 L98.6,469.9 L99.2,469.6 L123.0,456.0 L123.4,455.7 L123.8,455.3 L124.2,454.8 L124.5,454.3 L124.8,453.7 L125.0,453.1 L125.1,452.4 L125.2,451.6 L125.3,450.9 L125.2,450.1 L125.1,449.2 L125.0,448.4 L124.8,447.5 L124.5,446.7 L124.2,445.8 L123.8,444.9 L123.4,444.1 L123.0,443.3 L122.4,442.5 L121.9,441.7 L121.3,441.0 L120.7,440.3 L120.1,439.6 L119.4,439.0 L118.7,438.5 L118.1,438.0 L117.4,437.6 L116.7,437.3 L116.0,437.0 L115.3,436.9 L114.7,436.7 L114.0,436.7Z" fill="url(#gc_blk)" stroke="#2e2a66" stroke-width="0.9"/>
<linearGradient id="gc_cab" gradientUnits="userSpaceOnUse" x1="3.4" y1="503.1" x2="10.2" y2="516.7"><stop offset="0" stop-color="#e6e6ea"/><stop offset="0.3" stop-color="#f8f8fa"/><stop offset="0.55" stop-color="#d4d4da"/><stop offset="1" stop-color="#8e8e98"/></linearGradient>
<path d="M90.7,453.0 L90.3,453.1 L89.9,453.3 L89.5,453.5 L59.5,470.6 L91.4,470.6 L97.6,467.1 L98.0,466.8 L98.3,466.5 L98.5,466.2 L98.8,465.8 L99.0,465.4 L99.1,464.9 L99.2,464.4 L99.3,463.9 L99.3,463.3 L99.3,462.7 L99.2,462.1 L99.1,461.5 L99.0,460.9 L98.8,460.3 L98.5,459.6 L98.3,459.0 L98.0,458.4 L97.6,457.8 L97.3,457.2 L96.9,456.6 L96.4,456.1 L96.0,455.6 L95.5,455.1 L95.1,454.7 L94.6,454.3 L94.1,454.0 L93.6,453.7 L93.1,453.5 L92.6,453.3 L92.1,453.1 L91.6,453.0 L91.1,453.0Z" fill="url(#gc_cab)" stroke="#2e2a66" stroke-width="0.9"/>
<path d="M113.4,436.7 L112.8,436.9 L112.3,437.0 L111.8,437.3 L88.0,450.9 L87.5,451.2 L87.1,451.6 L86.7,452.1 L86.4,452.6 L86.1,453.2 L85.9,453.9 L85.8,454.5 L85.7,455.3 L85.7,456.0 L85.7,456.8 L85.8,457.7 L85.9,458.5 L86.1,459.4 L86.4,460.3 L86.7,461.1 L87.1,462.0 L87.5,462.8 L88.0,463.7 L88.5,464.5 L89.0,465.2 L89.6,466.0 L90.2,466.7 L90.9,467.3 L91.5,467.9 L92.2,468.4 L92.9,468.9 L93.6,469.3 L94.3,469.6 L94.9,469.9 L95.6,470.1 L96.3,470.2 L96.9,470.2 L97.5,470.2 L98.1,470.1 L98.6,469.9 L99.2,469.6 L123.0,456.0 L123.4,455.7 L123.8,455.3 L124.2,454.8 L124.5,454.3 L124.8,453.7 L125.0,453.1 L125.1,452.4 L125.2,451.6 L125.3,450.9 L125.2,450.1 L125.1,449.2 L125.0,448.4 L124.8,447.5 L124.5,446.7 L124.2,445.8 L123.8,444.9 L123.4,444.1 L123.0,443.3 L122.4,442.5 L121.9,441.7 L121.3,441.0 L120.7,440.3 L120.1,439.6 L119.4,439.0 L118.7,438.5 L118.1,438.0 L117.4,437.6 L116.7,437.3 L116.0,437.0 L115.3,436.9 L114.7,436.7 L114.0,436.7Z" fill="url(#gc_blk)" stroke="#2e2a66" stroke-width="0.9"/>
<path d="M94.3,469.6 L94.9,469.9 L95.6,470.1 L96.3,470.2 L96.9,470.2 L97.5,470.2 L98.1,470.1 L98.6,469.9 L99.2,469.6 L99.6,469.3 L100.0,468.9 L100.4,468.4 L100.7,467.9 L101.0,467.3 L101.2,466.7 L101.3,466.0 L101.4,465.2 L101.5,464.5 L101.4,463.7 L101.3,462.8 L101.2,462.0 L101.0,461.1 L100.7,460.3 L100.4,459.4 L100.0,458.5 L99.6,457.7 L99.2,456.9 L98.6,456.1 L98.1,455.3 L97.5,454.6 L96.9,453.9 L96.3,453.2 L95.6,452.6 L94.9,452.1 L94.3,451.6 L93.6,451.2 L92.9,450.9 L92.2,450.6 L91.5,450.5 L90.9,450.3 L90.2,450.3 L89.6,450.3 L89.0,450.5 L88.5,450.6 L88.0,450.9 L87.5,451.2 L87.1,451.6 L86.7,452.1 L86.4,452.6 L86.1,453.2 L85.9,453.9 L85.8,454.5 L85.7,455.3 L85.7,456.0 L85.7,456.8 L85.8,457.7 L85.9,458.5 L86.1,459.4 L86.4,460.3 L86.7,461.1 L87.1,462.0 L87.5,462.8 L88.0,463.7 L88.5,464.5 L89.0,465.2 L89.6,466.0 L90.2,466.7 L90.9,467.3 L91.5,467.9 L92.2,468.4 L92.9,468.9 L93.6,469.3Z" fill="#4a4a52" stroke="#2e2a66" stroke-width="0.8"/>
<path d="M90.7,453.0 L90.3,453.1 L89.9,453.3 L89.5,453.5 L59.5,470.6 L91.4,470.6 L97.6,467.1 L98.0,466.8 L98.3,466.5 L98.5,466.2 L98.8,465.8 L99.0,465.4 L99.1,464.9 L99.2,464.4 L99.3,463.9 L99.3,463.3 L99.3,462.7 L99.2,462.1 L99.1,461.5 L99.0,460.9 L98.8,460.3 L98.5,459.6 L98.3,459.0 L98.0,458.4 L97.6,457.8 L97.3,457.2 L96.9,456.6 L96.4,456.1 L96.0,455.6 L95.5,455.1 L95.1,454.7 L94.6,454.3 L94.1,454.0 L93.6,453.7 L93.1,453.5 L92.6,453.3 L92.1,453.1 L91.6,453.0 L91.1,453.0Z" fill="url(#gc_cab)" stroke="#2e2a66" stroke-width="0.9"/>
</g>
</svg>
</body></html>
